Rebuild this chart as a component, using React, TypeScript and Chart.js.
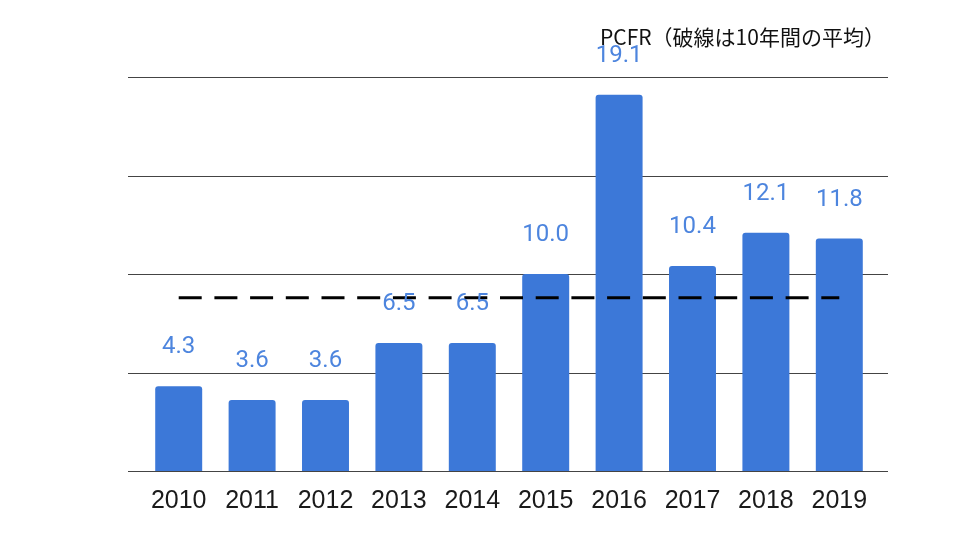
import React, { useEffect, useRef } from 'react';
import { Chart, registerables } from 'chart.js';

Chart.register(...registerables);

// data
const years = ['2010', '2011', '2012', '2013', '2014', '2015', '2016', '2017', '2018', '2019'];
const pcfrValues = [4.3, 3.6, 3.6, 6.5, 6.5, 10.0, 19.1, 10.4, 12.1, 11.8];
const tenYearAverage = 8.8;
const gridValues = [0, 5, 10, 15, 20];
const chartTitle = 'PCFR（破線は10年間の平均）';

const BAR_COLOR = '#3c78d8';
const LABEL_COLOR = '#4d85de';

// horizontal gridlines, a bit wider than the category area
const gridPlugin = {
  id: 'gridLines',
  beforeDatasetsDraw(chart: any) {
    const { ctx, chartArea, scales } = chart;
    ctx.save();
    ctx.strokeStyle = '#444';
    ctx.lineWidth = 1;
    gridValues.forEach(v => {
      const y = Math.round(scales.y.getPixelForValue(v)) + 0.5;
      ctx.beginPath();
      ctx.moveTo(chartArea.left - 14, y);
      ctx.lineTo(chartArea.right + 12, y);
      ctx.stroke();
    });
    ctx.restore();
  },
};

// value labels over bars + title text
const labelPlugin = {
  id: 'barLabels',
  afterDatasetsDraw(chart: any) {
    const { ctx } = chart;
    const meta = chart.getDatasetMeta(0);
    ctx.save();
    ctx.font = '24px Roboto';
    ctx.fillStyle = LABEL_COLOR;
    ctx.textAlign = 'center';
    ctx.textBaseline = 'alphabetic';
    meta.data.forEach((bar: any, i: number) => {
      ctx.fillText(pcfrValues[i].toFixed(1), bar.x, bar.y - 33);
    });
    ctx.font = '21px "Noto Sans CJK JP", "Noto Sans", sans-serif';
    ctx.fillStyle = '#111';
    ctx.textAlign = 'left';
    ctx.fillText(chartTitle, 600, 45);
    ctx.restore();
  },
};

export default function App() {
  const canvasRef = useRef<HTMLCanvasElement>(null);

  useEffect(() => {
    document.body.style.margin = '0';
    if (!canvasRef.current) return;
    const chart = new Chart(canvasRef.current, {
      type: 'bar',
      data: {
        labels: years,
        datasets: [
          {
            type: 'bar',
            data: pcfrValues,
            backgroundColor: BAR_COLOR,
            borderRadius: 3,
            borderSkipped: 'bottom',
            barPercentage: 0.64,
            categoryPercentage: 1,
            order: 1,
          },
          {
            type: 'line',
            data: years.map(() => tenYearAverage),
            borderColor: '#000',
            borderWidth: 3,
            borderDash: [23, 12.7],
            pointRadius: 0,
            fill: false,
            order: 0,
          } as any,
        ],
      },
      options: {
        animation: false,
        responsive: true,
        maintainAspectRatio: false,
        layout: { padding: { left: 142, right: 84, top: 77, bottom: 0 } },
        plugins: {
          legend: { display: false },
          tooltip: { enabled: false },
          title: { display: false },
        },
        scales: {
          x: {
            grid: { display: false },
            border: { display: false },
            ticks: {
              color: '#1a1a1a',
              padding: 7,
              font: { family: '"Liberation Sans", Arial, sans-serif', size: 25 },
            },
            afterFit: (scale: any) => {
              scale.height = 69;
            },
          },
          y: {
            display: false,
            min: 0,
            max: 20,
          },
        },
      },
      plugins: [gridPlugin, labelPlugin],
    });
    return () => chart.destroy();
  }, []);

  return (
    <div style={{ width: 960, height: 540, position: 'relative', background: '#fff' }}>
      <canvas ref={canvasRef} />
    </div>
  );
}
